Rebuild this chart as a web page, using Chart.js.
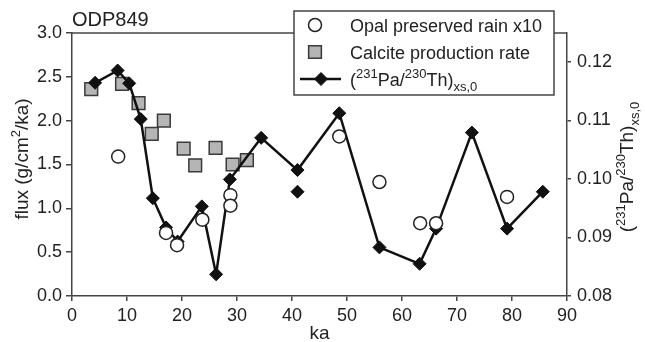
<!DOCTYPE html>
<html>
<head>
<meta charset="utf-8">
<title>ODP849</title>
<script src="https://cdn.jsdelivr.net/npm/chart.js@4.4.1/dist/chart.umd.min.js"></script>
<style>
  html, body { margin: 0; padding: 0; background: #fff; }
  #wrap { width: 645px; height: 342px; position: relative; }
</style>
</head>
<body>
<div id="wrap"><canvas id="odpChart"></canvas></div>
<script>
// values (ka, flux in g/cm2/ka, ratio on right axis)
const opalKa = [8.4, 17.1, 19.1, 23.7, 28.8, 28.8, 48.6, 55.9, 63.3, 66.2, 79.1];
const opalFlux = [1.59, 0.72, 0.58, 0.87, 1.15, 1.03, 1.82, 1.30, 0.83, 0.83, 1.13];

const calciteKa = [3.5, 9.1, 12.1, 14.5, 16.7, 20.3, 22.4, 26.1, 29.2, 31.8];
const calciteFlux = [2.36, 2.42, 2.20, 1.85, 2.00, 1.68, 1.49, 1.69, 1.50, 1.55];

const paThKa = [4.2, 8.3, 10.4, 12.5, 14.7, 17.1, 19.2, 23.6, 26.2, 28.7, 34.4, 41.0, 48.6, 55.9, 63.2, 66.2, 72.7, 79.1, 85.6];
const paThRatio = [0.1164, 0.1185, 0.1163, 0.1102, 0.0967, 0.0917, 0.0893, 0.0953, 0.0837, 0.0999, 0.1070, 0.1015, 0.1112, 0.0883, 0.0855, 0.0915, 0.1079, 0.0915, 0.0978];
// lone replicate at 41 ka, not joined to the line
const paThExtraKa = [41.0];
const paThExtraRatio = [0.0978];

const kaTicks = [0, 10, 20, 30, 40, 50, 60, 70, 80, 90];
const fluxTicks = [0, 0.5, 1.0, 1.5, 2.0, 2.5, 3.0];
const ratioTicks = [0.08, 0.09, 0.10, 0.11, 0.12];

const FONT = '"Liberation Sans", Arial, sans-serif';
const INK = '#222';
const AXIS = '#444';

const paThRuns = [
    { text: '(' }, { text: '231', kind: 'sup' }, { text: 'Pa/' },
    { text: '230', kind: 'sup' }, { text: 'Th)' }, { text: 'xs,0', kind: 'sub' }
];
const fluxRuns = [{ text: 'flux (g/cm' }, { text: '2', kind: 'sup' }, { text: '/ka)' }];

function toPoints(xs, ys) {
    return xs.map((x, i) => ({ x: x, y: ys[i] }));
}

function runFont(r, size) {
    return (r.kind ? Math.round(size * 0.7) : size) + 'px ' + FONT;
}

function richWidth(ctx, runs, size) {
    let w = 0;
    runs.forEach(r => {
        ctx.font = runFont(r, size);
        w += ctx.measureText(r.text).width;
    });
    return w;
}

function drawRich(ctx, runs, x, y, size) {
    let cx = x;
    ctx.textBaseline = 'alphabetic';
    ctx.textAlign = 'left';
    runs.forEach(r => {
        ctx.font = runFont(r, size);
        let dy = 0;
        if (r.kind === 'sup') dy = -size * 0.42;
        if (r.kind === 'sub') dy = size * 0.3;
        ctx.fillText(r.text, cx, y + dy);
        cx += ctx.measureText(r.text).width;
    });
}

const markers = {
    opal: { pointStyle: 'circle', radius: 6.5, fill: '#fff', stroke: '#222', width: 1.5 },
    calcite: { pointStyle: 'rect', radius: 9, fill: '#b5b5b5', stroke: '#3a3a3a', width: 1.5 },
    paTh: { pointStyle: 'rectRot', radius: 6.5, fill: '#111', stroke: '#111', width: 1 }
};

function drawMarker(ctx, m, x, y) {
    ctx.save();
    ctx.fillStyle = m.fill;
    ctx.strokeStyle = m.stroke;
    ctx.lineWidth = m.width;
    Chart.helpers.drawPoint(ctx, { pointStyle: m.pointStyle, radius: m.radius, rotation: 0, borderWidth: m.width }, x, y);
    ctx.restore();
}

const decorations = {
    id: 'decorations',
    afterDraw(chart) {
        const ctx = chart.ctx;
        const a = chart.chartArea;
        ctx.save();

        // top side of the frame
        ctx.strokeStyle = AXIS;
        ctx.lineWidth = 1.5;
        ctx.beginPath();
        ctx.moveTo(a.left, a.top);
        ctx.lineTo(a.right, a.top);
        ctx.stroke();

        ctx.fillStyle = INK;
        ctx.font = '20px ' + FONT;
        ctx.textAlign = 'left';
        ctx.textBaseline = 'alphabetic';
        ctx.fillText('ODP849', 72, 26);

        // x title
        ctx.font = '19px ' + FONT;
        ctx.textAlign = 'center';
        ctx.fillText('ka', (a.left + a.right) / 2, 339);

        // left title, rotated
        ctx.save();
        ctx.translate(28, 159);
        ctx.rotate(-Math.PI / 2);
        drawRich(ctx, fluxRuns, -richWidth(ctx, fluxRuns, 19) / 2, 0, 19);
        ctx.restore();

        // right title, rotated the same way
        ctx.save();
        ctx.translate(633, 167);
        ctx.rotate(-Math.PI / 2);
        drawRich(ctx, paThRuns, -richWidth(ctx, paThRuns, 19) / 2, 0, 19);
        ctx.restore();

        // legend box
        ctx.fillStyle = '#fff';
        ctx.fillRect(294, 11, 260, 84);
        ctx.strokeStyle = AXIS;
        ctx.lineWidth = 1.5;
        ctx.strokeRect(294, 11, 260, 84);

        drawMarker(ctx, markers.opal, 315, 25);
        drawMarker(ctx, markers.calcite, 315, 52);
        ctx.strokeStyle = '#111';
        ctx.lineWidth = 2.5;
        ctx.beginPath();
        ctx.moveTo(300, 79);
        ctx.lineTo(341, 79);
        ctx.stroke();
        drawMarker(ctx, markers.paTh, 321, 79);

        ctx.fillStyle = INK;
        ctx.font = '18px ' + FONT;
        ctx.textAlign = 'left';
        ctx.fillText('Opal preserved rain x10', 350, 32);
        ctx.fillText('Calcite production rate', 350, 58.5);
        drawRich(ctx, paThRuns, 350, 86, 18);

        ctx.restore();
    }
};

function axisStyle(ticksArr, digits, fitFn) {
    return {
        type: 'linear',
        afterBuildTicks: axis => { axis.ticks = ticksArr.map(v => ({ value: v })); },
        afterFit: fitFn,
        ticks: {
            color: INK,
            font: { family: FONT, size: 18 },
            padding: 4,
            maxRotation: 0,
            callback: v => digits === null ? String(v) : Number(v).toFixed(digits)
        },
        grid: { drawOnChartArea: false, tickLength: 6, color: AXIS, lineWidth: 1.5 },
        border: { color: AXIS, width: 1.5 }
    };
}

const xScale = axisStyle(kaTicks, null, s => { s.height = 46; });
xScale.min = 0;
xScale.max = 90;
xScale.grid.tickLength = 5;
xScale.ticks.padding = 4;

const yScale = axisStyle(fluxTicks, 1, s => { s.width = 72; });
yScale.position = 'left';
yScale.min = 0;
yScale.max = 3;

const y2Scale = axisStyle(ratioTicks, 2, s => { s.width = 78; });
y2Scale.position = 'right';
y2Scale.min = 0.08;
y2Scale.max = 0.1249;
y2Scale.grid.tickLength = 4;
y2Scale.ticks.padding = 6;

const ctx = document.getElementById('odpChart').getContext('2d');
new Chart(ctx, {
    type: 'scatter',
    data: {
        datasets: [
            {
                label: 'Opal preserved rain x10',
                data: toPoints(opalKa, opalFlux),
                yAxisID: 'y',
                pointStyle: 'circle',
                pointRadius: markers.opal.radius,
                backgroundColor: markers.opal.fill,
                borderColor: markers.opal.stroke,
                borderWidth: markers.opal.width,
                order: 1
            },
            {
                label: '231Pa/230Th',
                data: toPoints(paThKa, paThRatio),
                yAxisID: 'y2',
                showLine: true,
                tension: 0,
                borderColor: '#111',
                borderWidth: 2.5,
                pointStyle: 'rectRot',
                pointRadius: markers.paTh.radius,
                pointBackgroundColor: markers.paTh.fill,
                pointBorderColor: markers.paTh.stroke,
                pointBorderWidth: markers.paTh.width,
                order: 2
            },
            {
                label: '231Pa/230Th replicate',
                data: toPoints(paThExtraKa, paThExtraRatio),
                yAxisID: 'y2',
                pointStyle: 'rectRot',
                pointRadius: markers.paTh.radius,
                backgroundColor: markers.paTh.fill,
                borderColor: markers.paTh.stroke,
                borderWidth: markers.paTh.width,
                order: 2
            },
            {
                label: 'Calcite production rate',
                data: toPoints(calciteKa, calciteFlux),
                yAxisID: 'y',
                pointStyle: 'rect',
                pointRadius: markers.calcite.radius,
                backgroundColor: markers.calcite.fill,
                borderColor: markers.calcite.stroke,
                borderWidth: markers.calcite.width,
                order: 3
            }
        ]
    },
    options: {
        responsive: true,
        maintainAspectRatio: false,
        animation: false,
        layout: { padding: { top: 33, left: 0, right: 0, bottom: 0 } },
        plugins: {
            legend: { display: false },
            title: { display: false },
            tooltip: { enabled: false }
        },
        scales: { x: xScale, y: yScale, y2: y2Scale }
    },
    plugins: [decorations]
});
</script>
</body>
</html>
